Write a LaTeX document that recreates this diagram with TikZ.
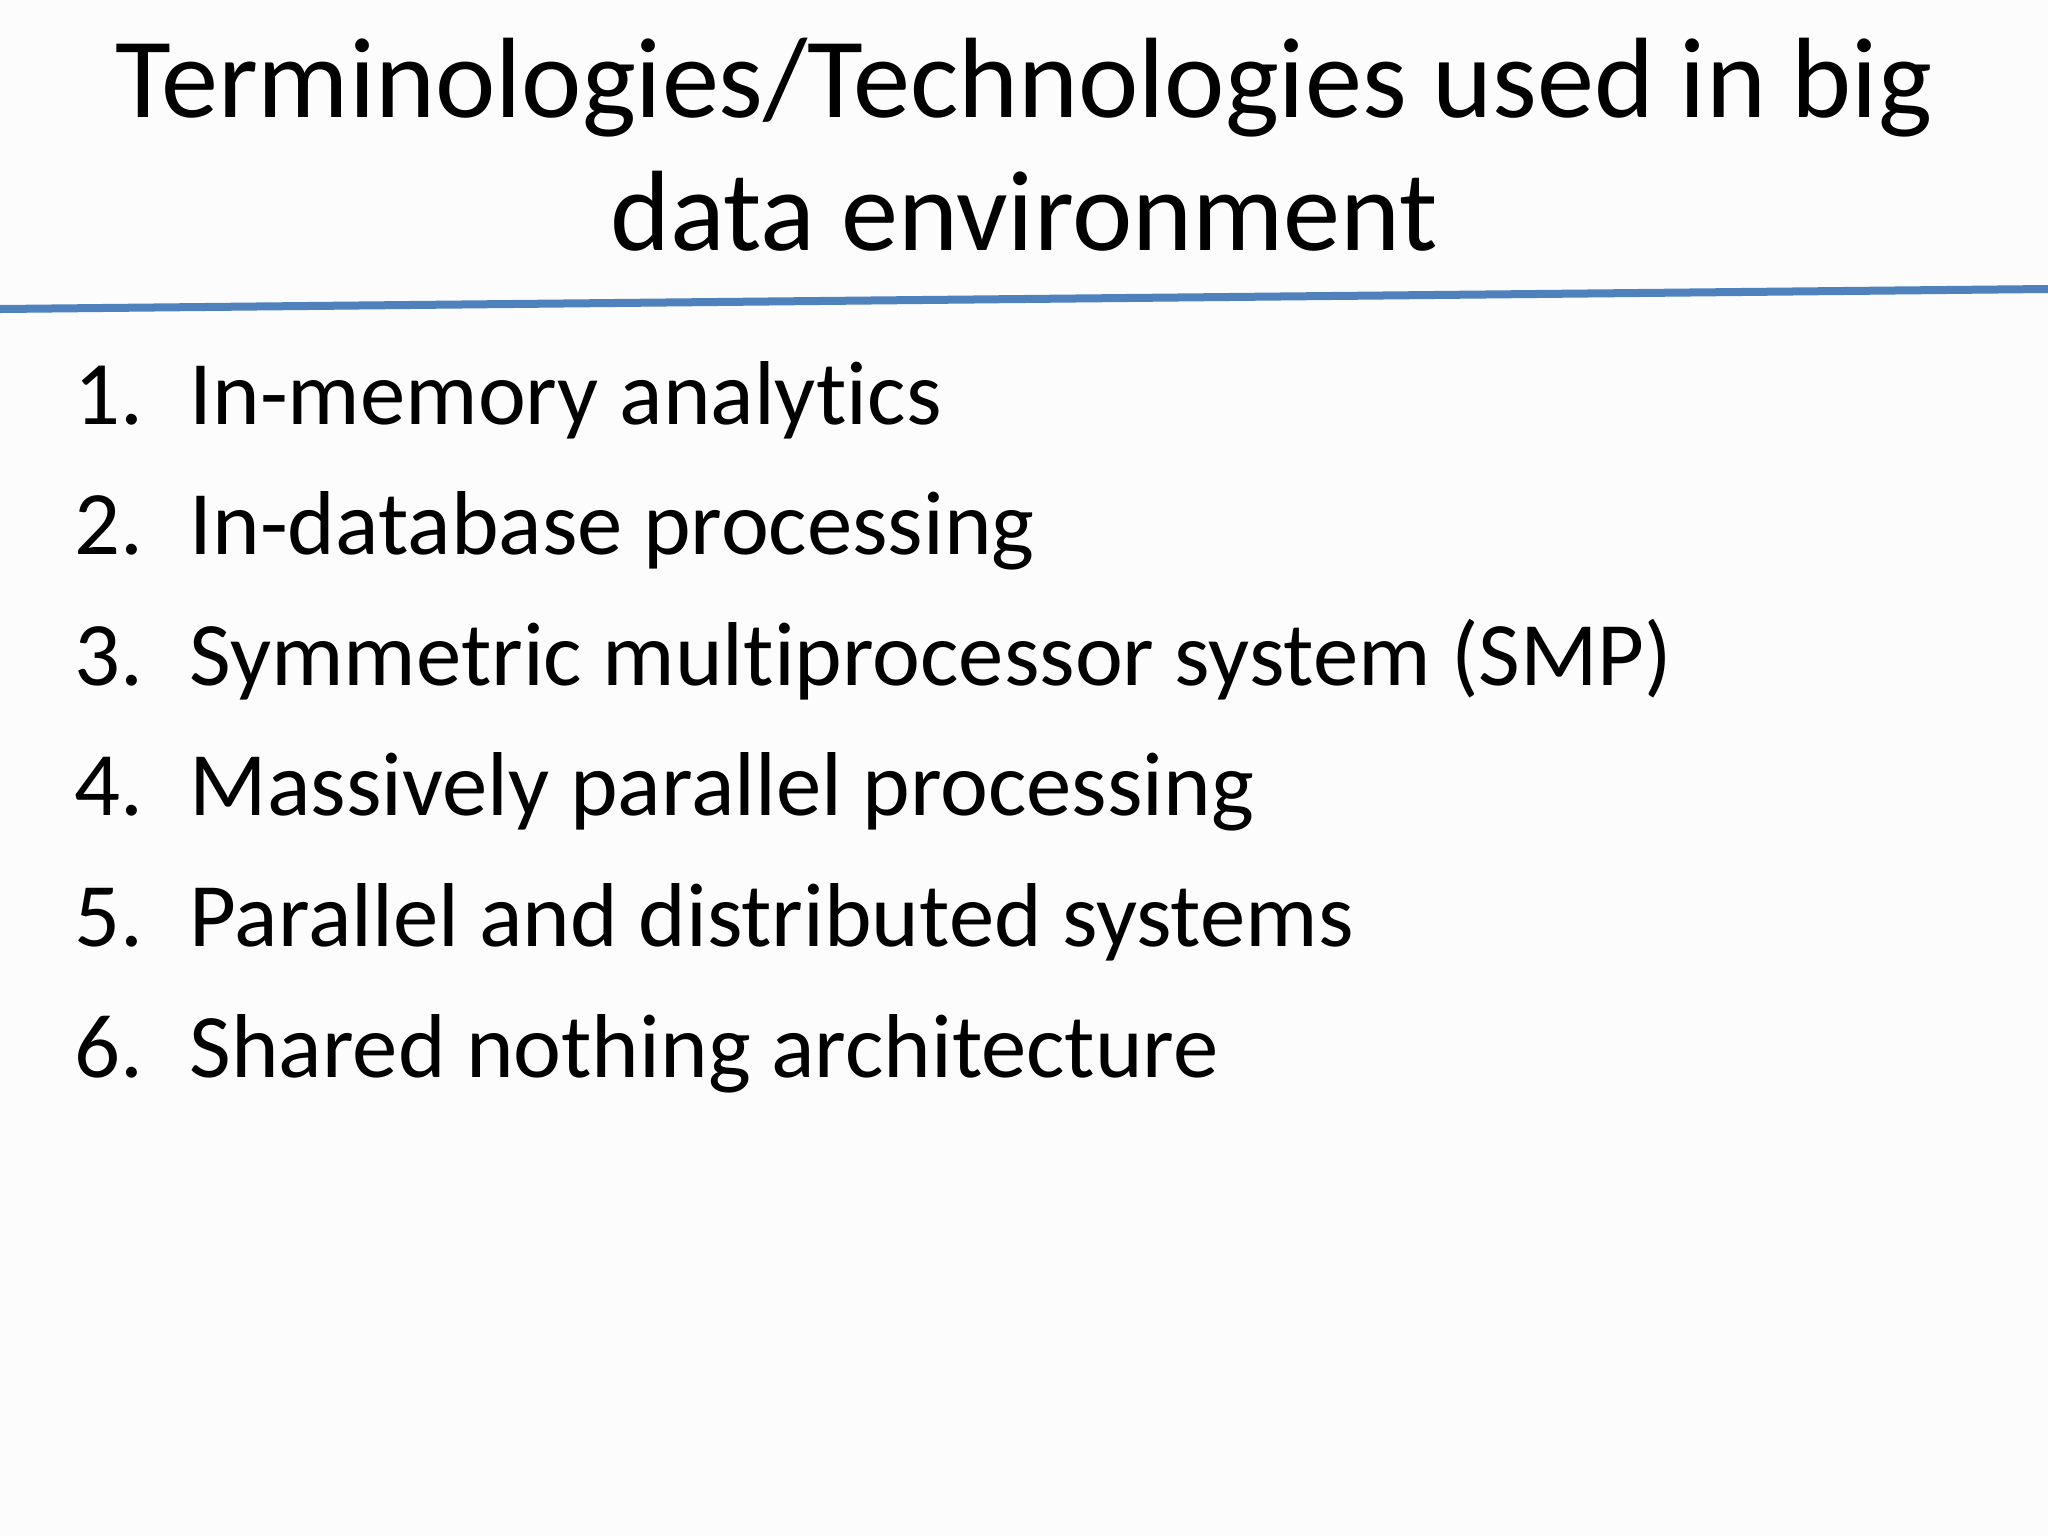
\documentclass[tikz,border=0pt]{standalone}
\usepackage{fontspec}
\setmainfont[Ligatures=NoCommon]{Carlito}
\begin{document}
\begin{tikzpicture}[x=0.01cm,y=-0.01cm,
  title/.style={anchor=base,font=\fontsize{32.5}{40}\selectfont,inner sep=0},
  num/.style={anchor=base west,font=\fontsize{25.8}{32}\selectfont,inner sep=0},
  item/.style={anchor=base west,font=\fontsize{25.8}{32}\selectfont,inner sep=0}]
\useasboundingbox[fill=white!98!gray] (0,0) rectangle (2048,1536);
\node[title] (t1) at (1024,117) {Terminologies/Technologies used in big};
\node[title] (t2) at (1024,250) {data environment};
\draw[line width=0.08cm,color={rgb,255:red,79;green,129;blue,189}] (0,309) -- (2048,289);
\foreach \n/\t [count=\i] in {1/In-memory analytics,2/In-database processing,3/Symmetric multiprocessor system (SMP),4/Massively parallel processing,5/Parallel and distributed systems,6/Shared nothing architecture}{
  \node[num] (n\i) at (74,{424+(\i-1)*130.6}) {\n.};
  \node[item] (i\i) at (189,{424+(\i-1)*130.6}) {\t};
}
\end{tikzpicture}
\end{document}
